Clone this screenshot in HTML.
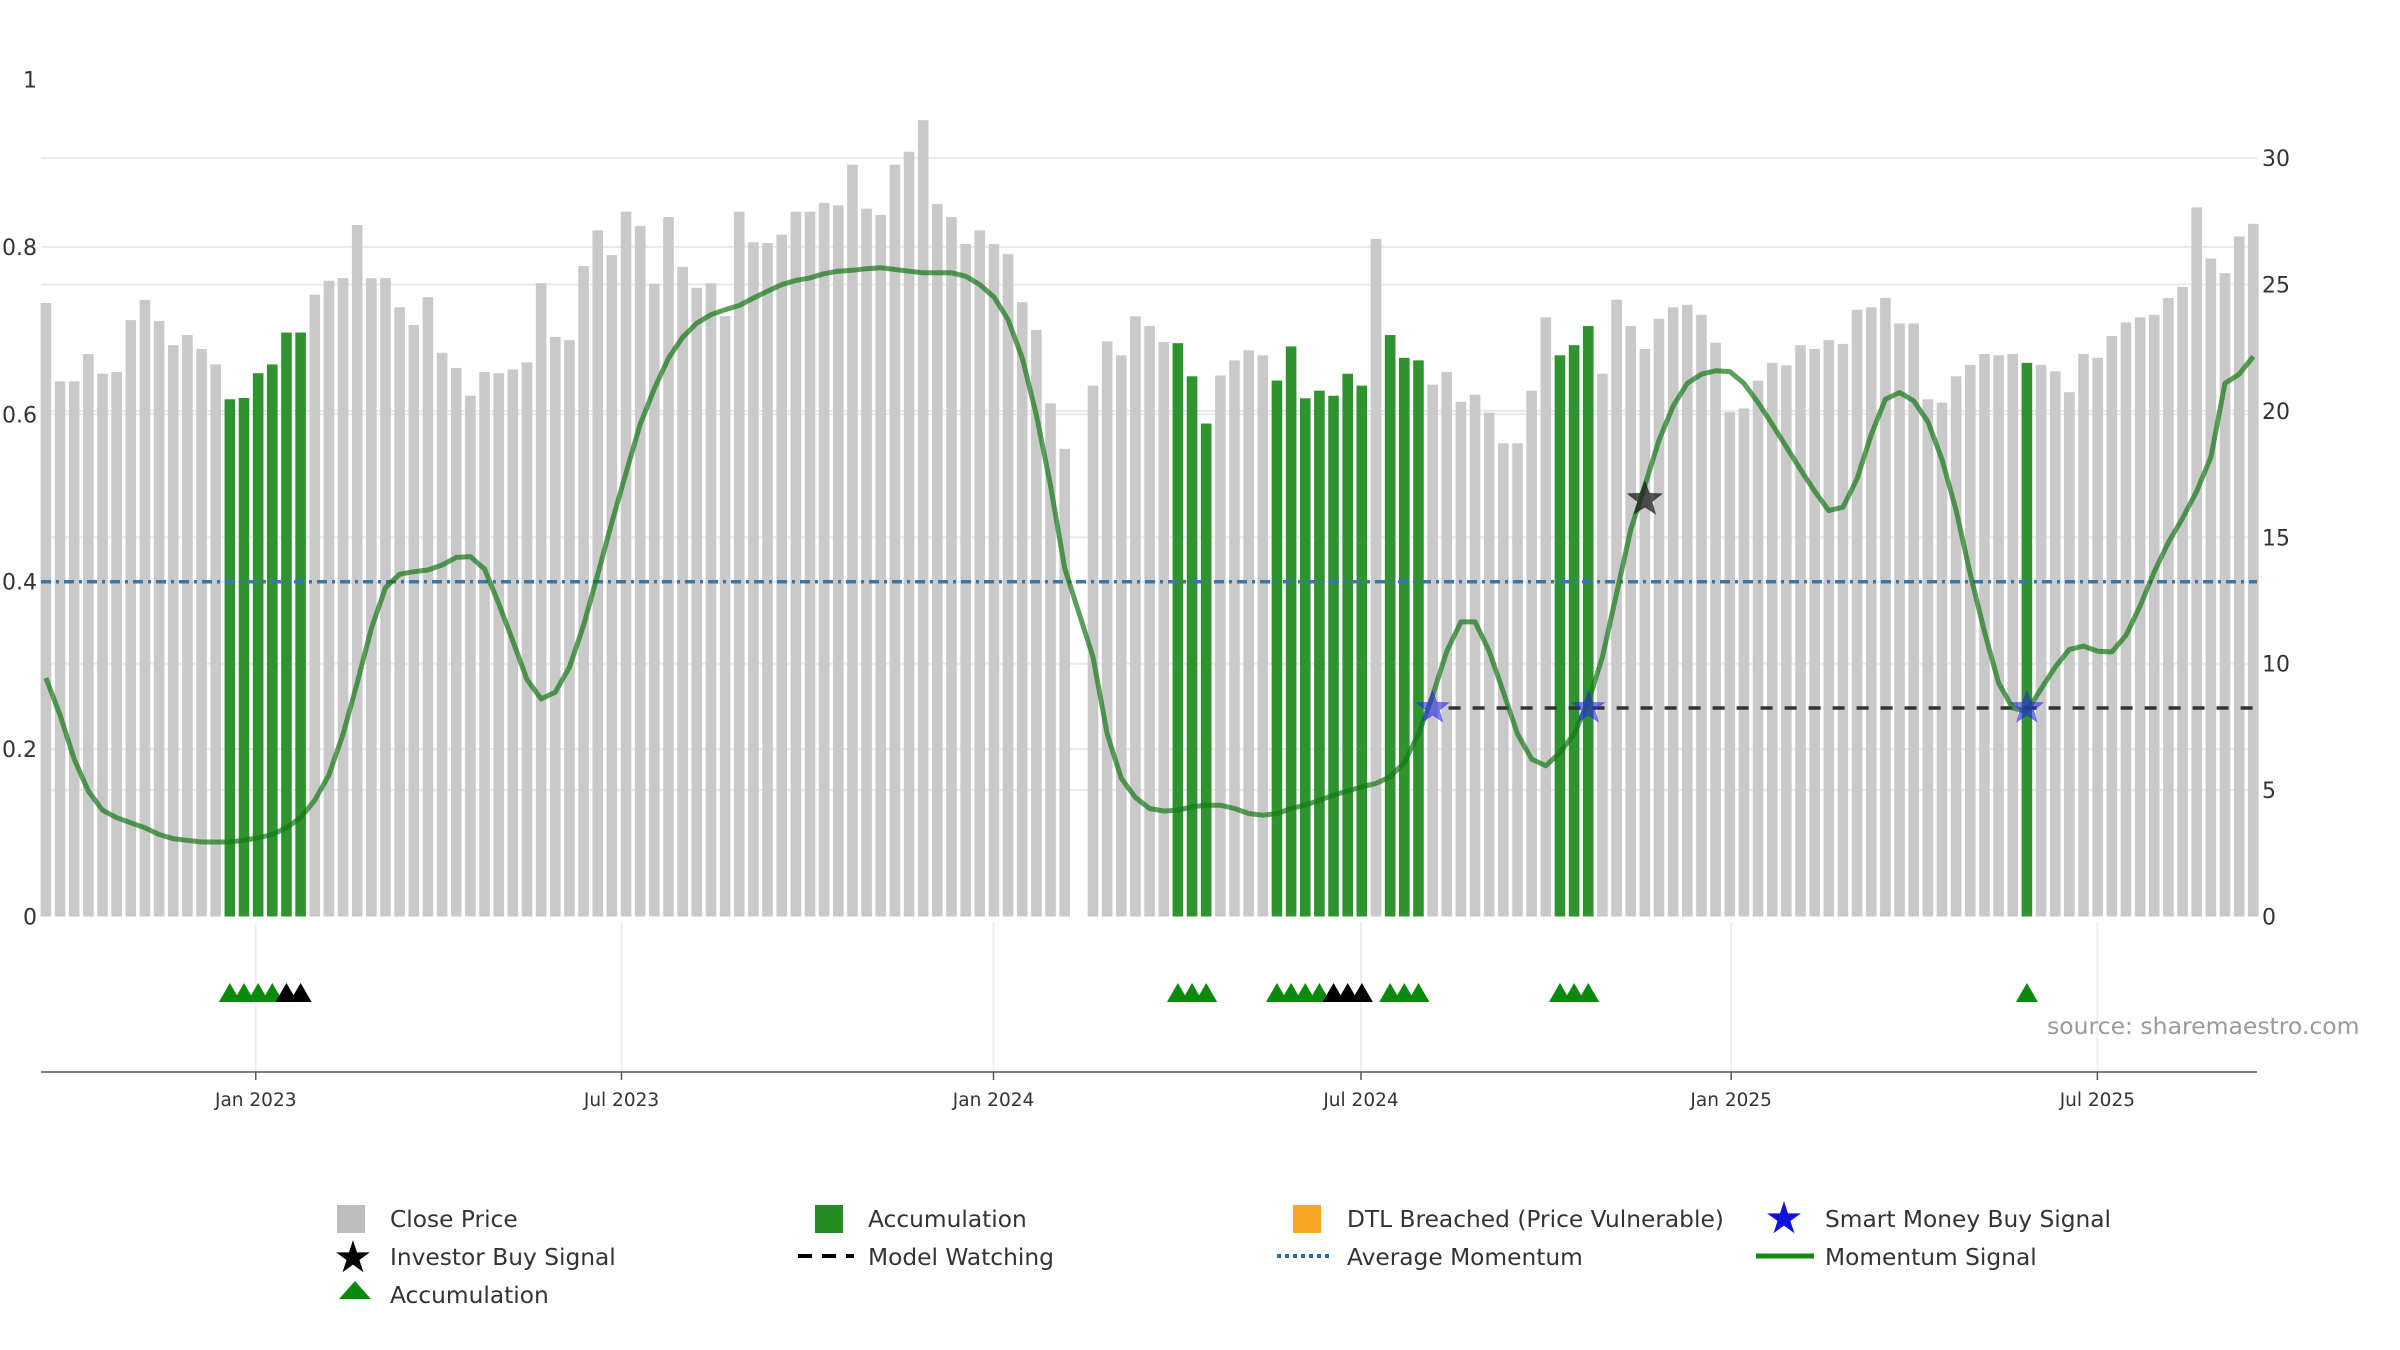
<!DOCTYPE html>
<html><head><meta charset="utf-8"><title>Momentum chart</title>
<style>
html,body{margin:0;padding:0;background:#fff;}
svg{display:block;font-family:"DejaVu Sans","Liberation Sans",sans-serif;}
</style></head>
<body>
<svg id="chart" width="2400" height="1350" viewBox="0 0 2400 1350">
  <g id="grid"></g>
  <g id="bars"></g>
  <g id="lines"></g>
  <g id="marks"></g>
  <g id="axes"></g>
  <text x="2047" y="1034" font-size="23.5" fill="#9a9a9a">source: sharemaestro.com</text>
  <g id="legend" font-size="23.3" fill="#333">
    <rect x="337" y="1205" width="28" height="28" fill="#bdbdbd"/>
    <text x="390" y="1227">Close Price</text>
    <rect x="815" y="1205" width="28" height="28" fill="#228b22"/>
    <text x="868" y="1227">Accumulation</text>
    <rect x="1293" y="1205" width="28" height="28" fill="#f5a623"/>
    <text x="1347" y="1227">DTL Breached (Price Vulnerable)</text>
    <text x="1784" y="1233" font-size="44" fill="#1010e0" text-anchor="middle">★</text>
    <text x="1825" y="1227">Smart Money Buy Signal</text>
    <text x="353" y="1272" font-size="44" fill="#000" text-anchor="middle">★</text>
    <text x="390" y="1265">Investor Buy Signal</text>
    <line x1="798" y1="1256" x2="854" y2="1256" stroke="#000" stroke-width="4" stroke-dasharray="14,10"/>
    <text x="868" y="1265">Model Watching</text>
    <line x1="1277" y1="1256" x2="1333" y2="1256" stroke="#2a6fa0" stroke-width="4" stroke-dasharray="4,4"/>
    <text x="1347" y="1265">Average Momentum</text>
    <line x1="1756" y1="1256" x2="1814" y2="1256" stroke="#118811" stroke-width="5"/>
    <text x="1825" y="1265">Momentum Signal</text>
    <polygon points="339,1299 355,1281 371,1299" fill="#0a8a0a"/>
    <text x="390" y="1303">Accumulation</text>
  </g>
</svg>
<script>
var prices = [24.27,21.17,21.17,22.25,21.47,21.54,23.59,24.39,23.56,22.6,
23.0,22.45,21.84,20.46,20.51,21.49,21.84,23.1,23.1,24.6,
25.15,25.25,27.35,25.25,25.25,24.1,23.4,24.5,22.3,21.7,
20.6,21.54,21.49,21.64,21.92,25.05,22.93,22.8,25.73,27.14,
26.16,27.88,27.32,25.03,27.67,25.7,24.87,25.05,23.75,27.88,
26.67,26.64,26.97,27.88,27.88,28.23,28.13,29.74,28.0,27.75,
29.74,30.25,31.5,28.18,27.67,26.6,27.14,26.6,26.2,24.3,
23.2,20.3,18.5,null,21.0,22.75,22.2,23.74,23.36,22.73,22.68,21.37,
19.5,21.4,22.0,22.4,22.2,21.2,22.55,20.5,20.8,20.6,
21.47,21.0,26.8,23.0,22.1,22.0,21.04,21.54,20.36,20.64,
19.93,18.72,18.72,20.8,23.7,22.2,22.6,23.36,21.47,24.4,
23.36,22.45,23.64,24.1,24.2,23.8,22.7,19.95,20.1,21.2,
21.9,21.8,22.6,22.45,22.8,22.65,24.0,24.1,24.47,23.46,
23.46,20.46,20.33,21.37,21.82,22.25,22.2,22.25,21.9,21.82,
21.57,20.74,22.25,22.1,22.96,23.5,23.7,23.8,24.47,24.9,
28.05,26.03,25.45,26.9,27.4];
var accumulationWeeks = [13,14,15,16,17,18,80,81,82,87,88,89,90,91,92,93,95,96,97,107,108,109,140];
var momentum = [0.285,0.241,0.188,0.150,0.127,0.118,0.112,0.106,0.098,0.093,
0.091,0.089,0.089,0.089,0.091,0.094,0.098,0.106,0.118,0.139,
0.169,0.218,0.279,0.344,0.393,0.409,0.412,0.414,0.420,0.429,
0.430,0.415,0.374,0.329,0.283,0.260,0.268,0.298,0.348,0.409,
0.471,0.530,0.588,0.631,0.667,0.692,0.709,0.719,0.725,0.730,
0.739,0.747,0.755,0.760,0.763,0.768,0.771,0.772,0.774,0.775,
0.773,0.771,0.769,0.769,0.769,0.765,0.755,0.740,0.713,0.667,
0.599,0.515,0.416,0.363,0.310,0.218,0.165,0.142,0.129,0.126,
0.127,0.131,
0.133,0.133,0.129,0.123,0.121,0.123,0.129,0.133,0.139,0.145,
0.150,0.155,0.159,0.167,0.184,0.218,0.264,0.317,0.352,0.352,
0.317,0.268,0.218,0.188,0.180,0.196,0.218,0.256,0.310,0.386,
0.462,0.515,0.569,0.610,0.637,0.648,0.652,0.651,0.637,0.614,
0.588,0.561,0.534,0.508,0.485,0.489,0.523,0.576,0.618,0.626,
0.616,0.591,0.546,0.485,0.409,0.340,0.279,0.249,0.245,0.272,
0.298,0.319,0.323,0.317,0.316,0.336,0.371,0.412,0.447,0.476,
0.508,0.549,0.637,0.648,0.669];
var averageMomentum = 0.40;
var modelWatchingLevel = 8.25;
var modelWatchingStart = 98;
var smartMoneyWeeks = [98,109,140];
var investorBuyWeeks = [113];
var investorBuyLevel = 16.5;
var greenTriangleWeeks = [13,14,15,16,80,81,82,87,88,89,90,95,96,97,107,108,109,140];
var blackTriangleWeeks = [17,18,91,92,93];
var leftTicks = [0,0.2,0.4,0.6,0.8,1];
var leftTickLabels = ["0","0.2","0.4","0.6","0.8","1"];
var rightTicks = [0,5,10,15,20,25,30];
var xTickWeeks = [14.83,40.68,66.97,92.94,119.1,144.98];
var xTickLabels = ["Jan 2023","Jul 2023","Jan 2024","Jul 2024","Jan 2025","Jul 2025"];

var NS = "http://www.w3.org/2000/svg";
var PL = 41, PR = 2257, BASE = 916.5;
function xScale(k){ return 45.9 + 14.15 * k; }
function yLeft(v){ return BASE - v * 837; }
function yRight(v){ return BASE - v * 25.28; }
function mk(tag, attrs, parent){ var e = document.createElementNS(NS, tag); for (var a in attrs) e.setAttribute(a, attrs[a]); parent.appendChild(e); return e; }
var gGrid = document.getElementById('grid'), gBars = document.getElementById('bars'),
    gLines = document.getElementById('lines'), gMarks = document.getElementById('marks'), gAxes = document.getElementById('axes');

leftTicks.forEach(function(t, i){
  if (t === 0 || t === 1) return;
  var l = mk('line', {x1:PL, x2:PR, y1:yLeft(t), y2:yLeft(t), stroke:'#e6eaef', 'stroke-width':2}, gGrid);
  
  
});
rightTicks.forEach(function(t){
  if (t === 0) return;
  var l = mk('line', {x1:PL, x2:PR, y1:yRight(t), y2:yRight(t), stroke:'#e6eaef', 'stroke-width':2}, gGrid);
  
  
});
xTickWeeks.forEach(function(w){
  var l = mk('line', {x1:xScale(w), x2:xScale(w), y1:922, y2:1072, stroke:'#eceff2', 'stroke-width':2}, gGrid);
  
  
});

prices.forEach(function(p, k){
  if (p === null) return;
  var acc = accumulationWeeks.indexOf(k) >= 0;
  var y = yRight(p);
  var r = mk('rect', {x:xScale(k) - 5.3, y:y, width:10.6, height:BASE - y, fill: acc ? '#2f942f' : '#c9c9c9'}, gBars);
  
  
});

var avg = mk('line', {x1:PL, x2:PR, y1:yLeft(averageMomentum), y2:yLeft(averageMomentum), stroke:'#3d75a3', 'stroke-width':3.5, 'stroke-dasharray':'10,5,3,5'}, gLines);



var mw = mk('line', {x1:xScale(modelWatchingStart) + 16, x2:xScale(prices.length - 1), y1:yRight(modelWatchingLevel), y2:yRight(modelWatchingLevel), stroke:'#333', 'stroke-width':3.5, 'stroke-dasharray':'12,12'}, gLines);



var pts = momentum.map(function(v, k){ return xScale(k).toFixed(1) + ',' + yLeft(v).toFixed(1); }).join(' ');
var ml = mk('polyline', {points:pts, fill:'none', stroke:'rgba(20,120,20,0.7)', 'stroke-width':5, 'stroke-linejoin':'round'}, gLines);



function starPts(cx, cy, R){
  var r = R * 0.42, s = [];
  for (var i = 0; i < 10; i++){ var a = -Math.PI/2 + i * Math.PI/5; var rr = i % 2 ? r : R; s.push((cx + rr*Math.cos(a)).toFixed(1) + ',' + (cy + rr*Math.sin(a)).toFixed(1)); }
  return s.join(' ');
}
smartMoneyWeeks.forEach(function(k){
  var s = mk('polygon', {points:starPts(xScale(k), yRight(modelWatchingLevel), 17), fill:'rgba(40,40,230,0.6)', stroke:'rgba(40,40,230,0.4)', 'stroke-width':1}, gMarks);
  
  
});
investorBuyWeeks.forEach(function(k){
  var s = mk('polygon', {points:starPts(xScale(k), yRight(investorBuyLevel), 18), fill:'rgba(30,30,30,0.75)', stroke:'rgba(0,0,0,0.4)', 'stroke-width':1}, gMarks);
  
  
});

function tri(k, color, name){
  var cx = xScale(k), cy = 993;
  var t = mk('polygon', {points:(cx-11)+','+(cy+9)+' '+cx+','+(cy-10)+' '+(cx+11)+','+(cy+9), fill:color}, gMarks);
  
  
}
greenTriangleWeeks.forEach(function(k){ tri(k, '#0a8a0a', 'accumulation-triangle'); });
blackTriangleWeeks.forEach(function(k){ tri(k, '#000', 'black-triangle'); });

var ax = mk('line', {x1:PL, x2:PR, y1:1072, y2:1072, stroke:'#555', 'stroke-width':1.5}, gAxes);


leftTicks.forEach(function(t, i){
  var tx = mk('text', {x:37, y:yLeft(t) + 8, 'font-size':22, fill:'#333', 'text-anchor':'end'}, gAxes);
  tx.textContent = leftTickLabels[i];
  
  
});
rightTicks.forEach(function(t){
  var tx = mk('text', {x:2262, y:yRight(t) + 8, 'font-size':22, fill:'#333'}, gAxes);
  tx.textContent = String(t);
  
  
});
xTickWeeks.forEach(function(w, i){
  var tk = mk('line', {x1:xScale(w), x2:xScale(w), y1:1072, y2:1080, stroke:'#555', 'stroke-width':1.5}, gAxes);
  
  
  var tx = mk('text', {x:xScale(w), y:1106, 'font-size':18.5, fill:'#333', 'text-anchor':'middle'}, gAxes);
  tx.textContent = xTickLabels[i];
  
  
});
</script>
</body></html>
